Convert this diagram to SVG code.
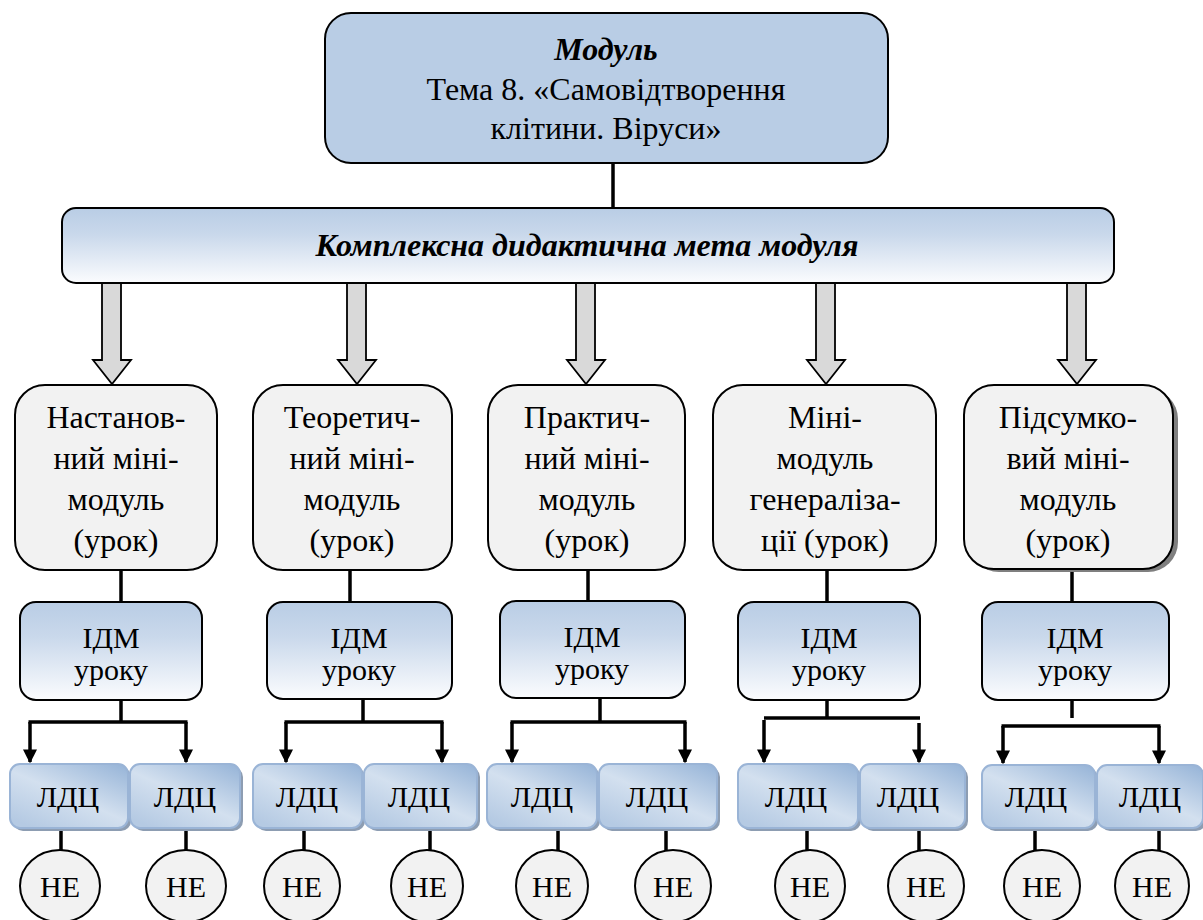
<svg xmlns="http://www.w3.org/2000/svg" width="1203" height="920" viewBox="0 0 1203 920" font-family="Liberation Serif">
<defs>
<linearGradient id="gBlue" x1="0" y1="0" x2="0" y2="1">
<stop offset="0" stop-color="#b9cde5"/>
<stop offset="0.35" stop-color="#c9d8eb"/>
<stop offset="1" stop-color="#fbfcfe"/>
</linearGradient>
<linearGradient id="gLdc" x1="1" y1="0" x2="0.2" y2="1">
<stop offset="0" stop-color="#95b3d7"/>
<stop offset="0.55" stop-color="#d3e0ef"/>
<stop offset="1" stop-color="#b5cae3"/>
</linearGradient>
<marker id="ah" viewBox="0 0 10 10" refX="9" refY="5" markerWidth="14" markerHeight="14" markerUnits="userSpaceOnUse" orient="auto">
<path d="M0,0 L10,5 L0,10 Z" fill="#000"/>
</marker>
</defs>

<g id="connectors" stroke="#000" stroke-width="3.5" fill="none">
<line x1="613" y1="163" x2="613" y2="208"/>
<g fill="#d9d9d9" stroke-width="1.8">
<path d="M102,283 V360 H93 L112,384 L131,360 H121 V283 Z"/>
<path d="M347,283 V360 H338 L357,384 L376,360 H366 V283 Z"/>
<path d="M576,283 V360 H567 L586,384 L605,360 H595 V283 Z"/>
<path d="M816,283 V360 H807 L826,384 L845,360 H835 V283 Z"/>
<path d="M1067,283 V360 H1058 L1077,384 L1096,360 H1086 V283 Z"/>
</g>
<line x1="121" y1="570" x2="121" y2="602"/>
<line x1="121" y1="700" x2="121" y2="722"/>
<line x1="28.5" y1="722" x2="187.5" y2="722"/>
<line x1="30" y1="722" x2="30" y2="762" marker-end="url(#ah)"/>
<line x1="186" y1="722" x2="186" y2="762" marker-end="url(#ah)"/>

<line x1="350" y1="570" x2="350" y2="602"/>
<line x1="363" y1="698" x2="363" y2="722"/>
<line x1="284.5" y1="722" x2="443.5" y2="722"/>
<line x1="286" y1="722" x2="286" y2="762" marker-end="url(#ah)"/>
<line x1="442" y1="722" x2="442" y2="762" marker-end="url(#ah)"/>

<line x1="588" y1="570" x2="588" y2="602"/>
<line x1="600" y1="698" x2="600" y2="722"/>
<line x1="510.5" y1="722" x2="686.5" y2="722"/>
<line x1="512" y1="722" x2="512" y2="762" marker-end="url(#ah)"/>
<line x1="685" y1="722" x2="685" y2="762" marker-end="url(#ah)"/>

<line x1="827" y1="570" x2="827" y2="602"/>
<line x1="827" y1="700" x2="827" y2="718"/>
<line x1="764" y1="718" x2="920" y2="718"/>
<line x1="764" y1="720" x2="764" y2="762" marker-end="url(#ah)"/>
<line x1="919" y1="723" x2="919" y2="762" marker-end="url(#ah)"/>

<line x1="1072" y1="569" x2="1072" y2="602"/>
<line x1="1072" y1="700" x2="1072" y2="718"/>
<line x1="1001.5" y1="726" x2="1160.5" y2="726"/>
<line x1="1003" y1="726" x2="1003" y2="763" marker-end="url(#ah)"/>
<line x1="1159" y1="726" x2="1159" y2="763" marker-end="url(#ah)"/>

<line x1="61" y1="828" x2="61" y2="851"/>
<line x1="186" y1="828" x2="186" y2="851"/>
<line x1="304" y1="828" x2="304" y2="851"/>
<line x1="430" y1="828" x2="430" y2="851"/>
<line x1="558" y1="828" x2="558" y2="851"/>
<line x1="666" y1="828" x2="666" y2="851"/>
<line x1="807" y1="828" x2="807" y2="851"/>
<line x1="919" y1="828" x2="919" y2="851"/>
<line x1="1035" y1="828" x2="1035" y2="851"/>
<line x1="1159" y1="828" x2="1159" y2="851"/>
</g>

<g id="module" font-size="32">
<rect x="325" y="13" width="563" height="150" rx="26" fill="#b9cde5" stroke="#000" stroke-width="2"/>
<text font-family="Liberation Serif" style="font-family:'Liberation Serif',serif" text-anchor="middle" font-weight="bold" font-style="italic" x="606" y="60">Модуль</text>
<text font-family="Liberation Serif" style="font-family:'Liberation Serif',serif" text-anchor="middle" x="606" y="100">Тема 8. «Самовідтворення</text>
<text font-family="Liberation Serif" style="font-family:'Liberation Serif',serif" text-anchor="middle" x="606" y="139">клітини. Віруси»</text>
</g>

<g id="goal" font-size="32">
<rect x="62" y="208" width="1052" height="75" rx="14" fill="url(#gBlue)" stroke="#000" stroke-width="2"/>
<text font-family="Liberation Serif" style="font-family:'Liberation Serif',serif" text-anchor="middle" font-weight="bold" font-style="italic" x="587" y="256">Комплексна дидактична мета модуля</text>
</g>

<g font-size="32">
<g id="mini1">
<rect x="15" y="385" width="202" height="185" rx="30" fill="#f2f2f2" stroke="#000" stroke-width="2"/>
<text font-family="Liberation Serif" style="font-family:'Liberation Serif',serif" text-anchor="middle" x="116" y="428">Настанов-</text>
<text font-family="Liberation Serif" style="font-family:'Liberation Serif',serif" text-anchor="middle" x="116" y="469">ний міні-</text>
<text font-family="Liberation Serif" style="font-family:'Liberation Serif',serif" text-anchor="middle" x="116" y="510">модуль</text>
<text font-family="Liberation Serif" style="font-family:'Liberation Serif',serif" text-anchor="middle" x="116" y="551">(урок)</text>
</g>
<g id="mini2">
<rect x="253" y="385" width="199" height="185" rx="30" fill="#f2f2f2" stroke="#000" stroke-width="2"/>
<text font-family="Liberation Serif" style="font-family:'Liberation Serif',serif" text-anchor="middle" x="352" y="428">Теоретич-</text>
<text font-family="Liberation Serif" style="font-family:'Liberation Serif',serif" text-anchor="middle" x="352" y="469">ний міні-</text>
<text font-family="Liberation Serif" style="font-family:'Liberation Serif',serif" text-anchor="middle" x="352" y="510">модуль</text>
<text font-family="Liberation Serif" style="font-family:'Liberation Serif',serif" text-anchor="middle" x="352" y="551">(урок)</text>
</g>
<g id="mini3">
<rect x="488" y="385" width="197" height="185" rx="30" fill="#f2f2f2" stroke="#000" stroke-width="2"/>
<text font-family="Liberation Serif" style="font-family:'Liberation Serif',serif" text-anchor="middle" x="587" y="428">Практич-</text>
<text font-family="Liberation Serif" style="font-family:'Liberation Serif',serif" text-anchor="middle" x="587" y="469">ний міні-</text>
<text font-family="Liberation Serif" style="font-family:'Liberation Serif',serif" text-anchor="middle" x="587" y="510">модуль</text>
<text font-family="Liberation Serif" style="font-family:'Liberation Serif',serif" text-anchor="middle" x="587" y="551">(урок)</text>
</g>
<g id="mini4">
<rect x="713" y="385" width="223" height="185" rx="30" fill="#f2f2f2" stroke="#000" stroke-width="2"/>
<text font-family="Liberation Serif" style="font-family:'Liberation Serif',serif" text-anchor="middle" x="825" y="428">Міні-</text>
<text font-family="Liberation Serif" style="font-family:'Liberation Serif',serif" text-anchor="middle" x="825" y="469">модуль</text>
<text font-family="Liberation Serif" style="font-family:'Liberation Serif',serif" text-anchor="middle" x="825" y="510">генераліза-</text>
<text font-family="Liberation Serif" style="font-family:'Liberation Serif',serif" text-anchor="middle" x="825" y="551">ції (урок)</text>
</g>
<g id="mini5">
<rect x="969" y="389" width="209" height="183" rx="30" fill="#7f7f7f"/>
<rect x="964" y="385" width="209" height="184" rx="30" fill="#f2f2f2" stroke="#000" stroke-width="2"/>
<text font-family="Liberation Serif" style="font-family:'Liberation Serif',serif" text-anchor="middle" x="1068" y="428">Підсумко-</text>
<text font-family="Liberation Serif" style="font-family:'Liberation Serif',serif" text-anchor="middle" x="1068" y="469">вий міні-</text>
<text font-family="Liberation Serif" style="font-family:'Liberation Serif',serif" text-anchor="middle" x="1068" y="510">модуль</text>
<text font-family="Liberation Serif" style="font-family:'Liberation Serif',serif" text-anchor="middle" x="1068" y="551">(урок)</text>
</g>
</g>

<g font-size="30">
<g id="idm1"><rect x="20" y="602" width="182" height="98" rx="16" fill="url(#gBlue)" stroke="#000" stroke-width="2"/><text font-family="Liberation Serif" style="font-family:'Liberation Serif',serif" text-anchor="middle" x="111" y="648">ІДМ</text><text font-family="Liberation Serif" style="font-family:'Liberation Serif',serif" text-anchor="middle" x="111" y="680">уроку</text></g>
<g id="idm2"><rect x="267" y="602" width="185" height="97" rx="16" fill="url(#gBlue)" stroke="#000" stroke-width="2"/><text font-family="Liberation Serif" style="font-family:'Liberation Serif',serif" text-anchor="middle" x="359" y="648">ІДМ</text><text font-family="Liberation Serif" style="font-family:'Liberation Serif',serif" text-anchor="middle" x="359" y="680">уроку</text></g>
<g id="idm3"><rect x="500" y="601" width="185" height="97" rx="16" fill="url(#gBlue)" stroke="#000" stroke-width="2"/><text font-family="Liberation Serif" style="font-family:'Liberation Serif',serif" text-anchor="middle" x="592" y="647">ІДМ</text><text font-family="Liberation Serif" style="font-family:'Liberation Serif',serif" text-anchor="middle" x="592" y="679">уроку</text></g>
<g id="idm4"><rect x="738" y="602" width="182" height="98" rx="16" fill="url(#gBlue)" stroke="#000" stroke-width="2"/><text font-family="Liberation Serif" style="font-family:'Liberation Serif',serif" text-anchor="middle" x="829" y="648">ІДМ</text><text font-family="Liberation Serif" style="font-family:'Liberation Serif',serif" text-anchor="middle" x="829" y="680">уроку</text></g>
<g id="idm5"><rect x="982" y="602" width="187" height="98" rx="16" fill="url(#gBlue)" stroke="#000" stroke-width="2"/><text font-family="Liberation Serif" style="font-family:'Liberation Serif',serif" text-anchor="middle" x="1075" y="648">ІДМ</text><text font-family="Liberation Serif" style="font-family:'Liberation Serif',serif" text-anchor="middle" x="1075" y="680">уроку</text></g>

<g id="ldc1"><rect x="13" y="767" width="118" height="64" rx="10" fill="#8d9db2"/><rect x="10" y="764" width="118" height="64" rx="10" fill="url(#gLdc)" stroke="#9ab4d6" stroke-width="2"/><text font-family="Liberation Serif" style="font-family:'Liberation Serif',serif" text-anchor="middle" x="68" y="807">ЛДЦ</text></g>
<g id="ldc2"><rect x="133" y="767" width="110" height="64" rx="10" fill="#8d9db2"/><rect x="130" y="764" width="110" height="64" rx="10" fill="url(#gLdc)" stroke="#9ab4d6" stroke-width="2"/><text font-family="Liberation Serif" style="font-family:'Liberation Serif',serif" text-anchor="middle" x="185" y="807">ЛДЦ</text></g>
<g id="ldc3"><rect x="256" y="767" width="109" height="64" rx="10" fill="#8d9db2"/><rect x="253" y="764" width="109" height="64" rx="10" fill="url(#gLdc)" stroke="#9ab4d6" stroke-width="2"/><text font-family="Liberation Serif" style="font-family:'Liberation Serif',serif" text-anchor="middle" x="307" y="807">ЛДЦ</text></g>
<g id="ldc4"><rect x="367" y="767" width="113" height="64" rx="10" fill="#8d9db2"/><rect x="364" y="764" width="113" height="64" rx="10" fill="url(#gLdc)" stroke="#9ab4d6" stroke-width="2"/><text font-family="Liberation Serif" style="font-family:'Liberation Serif',serif" text-anchor="middle" x="419" y="807">ЛДЦ</text></g>
<g id="ldc5"><rect x="490" y="767" width="110" height="64" rx="10" fill="#8d9db2"/><rect x="487" y="764" width="110" height="64" rx="10" fill="url(#gLdc)" stroke="#9ab4d6" stroke-width="2"/><text font-family="Liberation Serif" style="font-family:'Liberation Serif',serif" text-anchor="middle" x="542" y="807">ЛДЦ</text></g>
<g id="ldc6"><rect x="602" y="767" width="118" height="64" rx="10" fill="#8d9db2"/><rect x="599" y="764" width="118" height="64" rx="10" fill="url(#gLdc)" stroke="#9ab4d6" stroke-width="2"/><text font-family="Liberation Serif" style="font-family:'Liberation Serif',serif" text-anchor="middle" x="657" y="807">ЛДЦ</text></g>
<g id="ldc7"><rect x="741" y="767" width="120" height="64" rx="10" fill="#8d9db2"/><rect x="738" y="764" width="120" height="64" rx="10" fill="url(#gLdc)" stroke="#9ab4d6" stroke-width="2"/><text font-family="Liberation Serif" style="font-family:'Liberation Serif',serif" text-anchor="middle" x="796" y="807">ЛДЦ</text></g>
<g id="ldc8"><rect x="863" y="767" width="105" height="64" rx="10" fill="#8d9db2"/><rect x="860" y="764" width="105" height="64" rx="10" fill="url(#gLdc)" stroke="#9ab4d6" stroke-width="2"/><text font-family="Liberation Serif" style="font-family:'Liberation Serif',serif" text-anchor="middle" x="908" y="807">ЛДЦ</text></g>
<g id="ldc9"><rect x="985" y="768" width="113" height="63" rx="10" fill="#8d9db2"/><rect x="982" y="765" width="113" height="63" rx="10" fill="url(#gLdc)" stroke="#9ab4d6" stroke-width="2"/><text font-family="Liberation Serif" style="font-family:'Liberation Serif',serif" text-anchor="middle" x="1036" y="807">ЛДЦ</text></g>
<g id="ldc10"><rect x="1100" y="768" width="106" height="63" rx="10" fill="#8d9db2"/><rect x="1097" y="765" width="106" height="63" rx="10" fill="url(#gLdc)" stroke="#9ab4d6" stroke-width="2"/><text font-family="Liberation Serif" style="font-family:'Liberation Serif',serif" text-anchor="middle" x="1150" y="807">ЛДЦ</text></g>

<g id="ne1"><ellipse cx="60" cy="886" rx="40" ry="36" fill="#f2f2f2" stroke="#000" stroke-width="2"/><text font-family="Liberation Serif" style="font-family:'Liberation Serif',serif" text-anchor="middle" x="60" y="897">НЕ</text></g>
<g id="ne2"><ellipse cx="186" cy="886" rx="40" ry="36" fill="#f2f2f2" stroke="#000" stroke-width="2"/><text font-family="Liberation Serif" style="font-family:'Liberation Serif',serif" text-anchor="middle" x="186" y="897">НЕ</text></g>
<g id="ne3"><ellipse cx="302" cy="886" rx="38" ry="36" fill="#f2f2f2" stroke="#000" stroke-width="2"/><text font-family="Liberation Serif" style="font-family:'Liberation Serif',serif" text-anchor="middle" x="302" y="897">НЕ</text></g>
<g id="ne4"><ellipse cx="427" cy="886" rx="36" ry="36" fill="#f2f2f2" stroke="#000" stroke-width="2"/><text font-family="Liberation Serif" style="font-family:'Liberation Serif',serif" text-anchor="middle" x="427" y="897">НЕ</text></g>
<g id="ne5"><ellipse cx="552" cy="886" rx="36" ry="36" fill="#f2f2f2" stroke="#000" stroke-width="2"/><text font-family="Liberation Serif" style="font-family:'Liberation Serif',serif" text-anchor="middle" x="552" y="897">НЕ</text></g>
<g id="ne6"><ellipse cx="673" cy="886" rx="38" ry="36" fill="#f2f2f2" stroke="#000" stroke-width="2"/><text font-family="Liberation Serif" style="font-family:'Liberation Serif',serif" text-anchor="middle" x="673" y="897">НЕ</text></g>
<g id="ne7"><ellipse cx="810" cy="886" rx="35" ry="36" fill="#f2f2f2" stroke="#000" stroke-width="2"/><text font-family="Liberation Serif" style="font-family:'Liberation Serif',serif" text-anchor="middle" x="810" y="897">НЕ</text></g>
<g id="ne8"><ellipse cx="926" cy="886" rx="38" ry="36" fill="#f2f2f2" stroke="#000" stroke-width="2"/><text font-family="Liberation Serif" style="font-family:'Liberation Serif',serif" text-anchor="middle" x="926" y="897">НЕ</text></g>
<g id="ne9"><ellipse cx="1042" cy="886" rx="38" ry="36" fill="#f2f2f2" stroke="#000" stroke-width="2"/><text font-family="Liberation Serif" style="font-family:'Liberation Serif',serif" text-anchor="middle" x="1042" y="897">НЕ</text></g>
<g id="ne10"><ellipse cx="1152" cy="886" rx="37" ry="36" fill="#f2f2f2" stroke="#000" stroke-width="2"/><text font-family="Liberation Serif" style="font-family:'Liberation Serif',serif" text-anchor="middle" x="1152" y="897">НЕ</text></g>
</g>
</svg>
